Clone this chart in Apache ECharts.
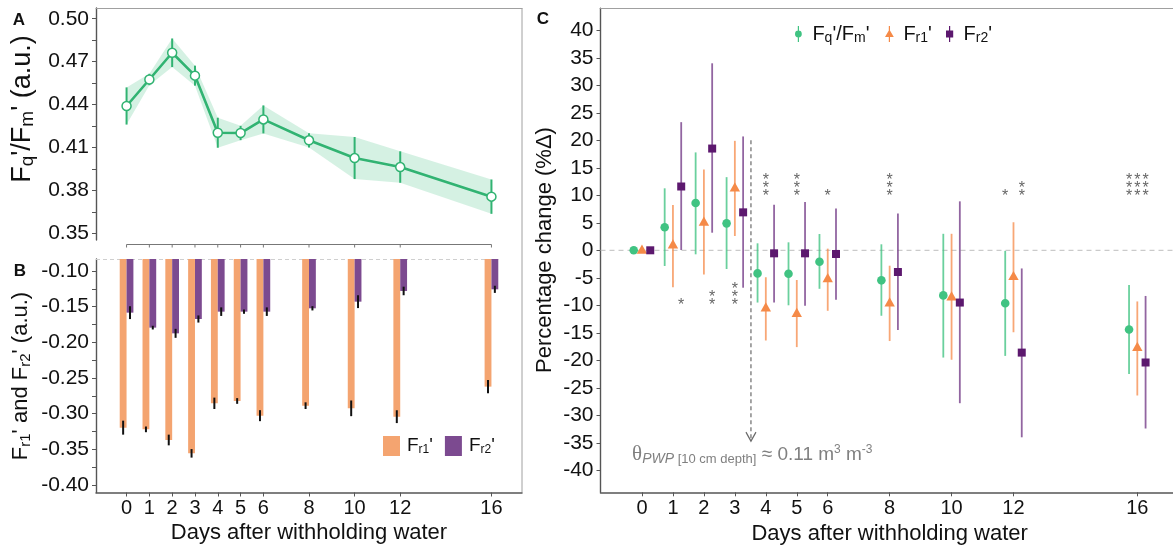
<!DOCTYPE html>
<html><head><meta charset="utf-8">
<script src="https://cdn.jsdelivr.net/npm/echarts@6/dist/echarts.min.js"></script>
<style>html,body{margin:0;padding:0;background:#fff}#c{width:1173px;height:547px}</style>
</head><body><div id="c"></div>
<script>
// ---------------- data ----------------
const days = [0, 1, 2, 3, 4, 5, 6, 8, 10, 12, 16];
// Panel A: Fq'/Fm' mean and error
const fqfm    = [0.439, 0.4575, 0.4762, 0.4602, 0.4203, 0.4201, 0.4296, 0.4150, 0.4026, 0.3963, 0.3756];
const fqfmErr = [0.013, 0.004, 0.010, 0.007, 0.0105, 0.005, 0.0098, 0.005, 0.0147, 0.011, 0.012];
// Panel B: Fr1' and Fr2' means and errors
const fr1    = [-0.3196, -0.3220, -0.3369, -0.3556, -0.2855, -0.2822, -0.3028, -0.2888, -0.2925, -0.3042, -0.2621];
const fr1Err = [0.0098, 0.004, 0.0075, 0.006, 0.008, 0.004, 0.0077, 0.0047, 0.011, 0.009, 0.0093];
const fr2    = [-0.1584, -0.1794, -0.1874, -0.1673, -0.157, -0.157, -0.157, -0.1523, -0.143, -0.128, -0.1257];
const fr2Err = [0.009, 0.0026, 0.0063, 0.005, 0.006, 0.003, 0.006, 0.003, 0.009, 0.006, 0.005];
// Panel C: percentage change (mean, low, high)
const pcFq    = [0, 4.2, 8.6, 4.9, -4.2, -4.25, -2.07, -5.46, -8.2, -9.64, -14.4];
const pcFqLo  = [0, -2.85, -0.73, -3.4, -9.5, -10.0, -7.0, -11.9, -19.5, -19.2, -22.5];
const pcFqHi  = [0, 11.27, 17.8, 13.3, 1.27, 1.45, 2.96, 1.09, 3.0, -0.1, -6.3];
const pcFr1   = [0, 0.96, 5.1, 11.3, -10.5, -11.5, -5.2, -9.6, -8.5, -4.8, -17.7];
const pcFr1Lo = [0, -6.7, -4.4, 2.6, -16.4, -17.6, -11.0, -16.5, -19.9, -14.9, -26.4];
const pcFr1Hi = [0, 8.24, 14.7, 19.9, -4.9, -5.4, 0.3, -2.8, 3.0, 5.1, -9.3];
const pcFr2   = [0, 11.6, 18.5, 6.9, -0.55, -0.55, -0.67, -3.95, -9.5, -18.6, -20.4];
const pcFr2Lo = [0, 0.05, 3.2, -6.8, -9.5, -10.1, -9.0, -14.5, -27.8, -34.0, -32.4];
const pcFr2Hi = [0, 23.3, 34.0, 20.7, 8.3, 8.8, 7.6, 6.7, 8.9, -3.3, -8.3];
// Significance marks (series: 0 = Fq'/Fm', 1 = Fr1', 2 = Fr2'; side: 1 above, -1 below)
const sigDay    = [4, 5, 6, 8, 12, 12, 16, 16, 16, 1, 2, 3];
const sigSeries = [1, 1, 1, 1, 0, 2, 0, 1, 2, 2, 2, 1];
const sigText   = ['***', '***', '*', '***', '*', '**', '***', '***', '***', '*', '**', '***'];
const sigSide   = [1, 1, 1, 1, 1, 1, 1, 1, 1, -1, -1, -1];
const sigLevelUp = 10.6, sigLevelDown = -9.3;
// PWP arrow and note (data coordinates of panel C)
const pwpDay = 3.52, pwpTop = 20, pwpBottom = -34.7;
const noteDay = -0.32, noteY = -37.2;
// Tick labels
const aYLabels = [0.35, 0.38, 0.41, 0.44, 0.47, 0.50];
const aYTicks  = [0.35, 0.365, 0.38, 0.395, 0.41, 0.425, 0.44, 0.455, 0.47, 0.485, 0.50];
const bYLabels = [-0.40, -0.35, -0.30, -0.25, -0.20, -0.15, -0.10];
const bYTicks  = [-0.40, -0.375, -0.35, -0.325, -0.30, -0.275, -0.25, -0.225, -0.20, -0.175, -0.15, -0.125, -0.10];
const cYLabels = [-40, -35, -30, -25, -20, -15, -10, -5, 0, 5, 10, 15, 20, 25, 30, 35, 40];

// ---------------- styles ----------------
const FONT = '"Liberation Sans", Arial, sans-serif';
const A_GREEN = '#31B372', A_BAND = 'rgba(64,192,128,0.22)';
const C_GREEN = '#40C382', C_ORANGE = '#F58A48', C_PURPLE = '#5C186E';
const C_GREEN_L = 'rgba(64,195,130,0.78)', C_ORANGE_L = 'rgba(245,138,72,0.75)', C_PURPLE_L = 'rgba(110,50,130,0.75)';
const B_ORANGE = '#F4A470', B_PURPLE = '#7C4A90';
const BAR_W = 0.3, DODGE = 0.267;
const X_MIN = -1.34, X_MAX = 17.34;

const chart = echarts.init(document.getElementById('c'), null, {renderer: 'canvas'});

function hiddenAxis(extra) {
  return Object.assign({type: 'value', min: X_MIN, max: X_MAX, axisLine: {show: false}, axisTick: {show: false},
    axisLabel: {show: false}, splitLine: {show: false}}, extra);
}
function borderAxis(gridIndex) {
  return {type: 'value', gridIndex, position: 'top', min: X_MIN, max: X_MAX,
    axisLine: {show: true, onZero: false, lineStyle: {color: '#a0a0a0', width: 1}}, axisTick: {show: false},
    axisLabel: {show: false}, splitLine: {show: false}};
}
function daysAxis(gridIndex) {
  return {type: 'value', gridIndex, position: 'bottom', min: X_MIN, max: X_MAX,
    axisLine: {show: true, onZero: false, lineStyle: {color: '#555', width: 1.5}},
    axisTick: {show: true, customValues: days, length: 4, lineStyle: {color: '#555', width: 1}},
    axisLabel: {show: true, customValues: days, margin: 6, fontSize: 20, color: '#111', fontFamily: FONT},
    splitLine: {show: false},
    name: 'Days after withholding water', nameLocation: 'middle', nameGap: 29,
    nameTextStyle: {fontSize: 22, color: '#111', fontFamily: FONT}};
}
function valueYAxis(gridIndex, min, max, labels, ticks, fmt) {
  return {type: 'value', gridIndex, min, max,
    axisLine: {show: true, onZero: false, lineStyle: {color: '#555', width: 1.4}},
    axisTick: {show: true, customValues: ticks, length: 4, lineStyle: {color: '#555', width: 1}},
    axisLabel: {show: true, customValues: labels, margin: 7, fontSize: 21, color: '#111', fontFamily: FONT, formatter: fmt},
    splitLine: {show: false}};
}

// ---- Panel A series ----
const bandSeries = {
  type: 'custom', xAxisIndex: 0, yAxisIndex: 0, silent: true, z: 1,
  data: days.map((d, i) => [d, fqfm[i] - fqfmErr[i], fqfm[i] + fqfmErr[i]]),
  renderItem(params, api) {
    if (params.dataIndex !== 0) return null;
    const up = days.map((d, i) => api.coord([d, fqfm[i] + fqfmErr[i]]));
    const dn = days.map((d, i) => api.coord([d, fqfm[i] - fqfmErr[i]])).reverse();
    return {type: 'polygon', shape: {points: up.concat(dn)}, style: {fill: A_BAND}};
  }
};
const aErrSeries = {
  type: 'custom', xAxisIndex: 0, yAxisIndex: 0, silent: true, z: 2,
  data: days.map((d, i) => [d, fqfm[i] - fqfmErr[i], fqfm[i] + fqfmErr[i]]),
  renderItem(params, api) {
    const lo = api.coord([api.value(0), api.value(1)]);
    const hi = api.coord([api.value(0), api.value(2)]);
    return {type: 'line', shape: {x1: lo[0], y1: lo[1], x2: hi[0], y2: hi[1]}, style: {stroke: A_GREEN, lineWidth: 2}};
  }
};
const aLineSeries = {
  type: 'line', xAxisIndex: 0, yAxisIndex: 0, z: 3, silent: true,
  data: days.map((d, i) => [d, fqfm[i]]),
  symbol: 'circle', symbolSize: 9,
  itemStyle: {color: '#fff', borderColor: A_GREEN, borderWidth: 1.5},
  lineStyle: {color: A_GREEN, width: 2.6}
};
const aBracketSeries = {
  type: 'custom', xAxisIndex: 0, yAxisIndex: 0, silent: true,
  data: days.map(d => [d, 0.36]),
  renderItem(params, api) {
    const cs = params.coordSys;
    const y0 = cs.y + cs.height + 4.5;
    const p = api.coord([api.value(0), api.value(1)]);
    const ch = [{type: 'line', shape: {x1: p[0], y1: y0, x2: p[0], y2: y0 + 3}, style: {stroke: '#777', lineWidth: 1}}];
    if (params.dataIndex === 0) {
      const a = api.coord([days[0], 0.36]), b = api.coord([days[days.length - 1], 0.36]);
      ch.push({type: 'line', shape: {x1: a[0], y1: y0, x2: b[0], y2: y0}, style: {stroke: '#777', lineWidth: 1}});
    }
    return {type: 'group', children: ch};
  }
};

// ---- Panel B series ----
function barSeries(name, color, vals, errs, offset, withTopLine) {
  return {
    type: 'custom', name, xAxisIndex: 2, yAxisIndex: 1, itemStyle: {color},
    data: days.map((d, i) => [d + offset, vals[i], errs[i]]),
    renderItem(params, api) {
      const cs = params.coordSys;
      const x = api.value(0), v = api.value(1), e = api.value(2);
      const w = api.size([BAR_W, 0])[0];
      const pEnd = api.coord([x, v]);
      const pBase = api.coord([x, 0]);
      const top = Math.max(pBase[1], cs.y);
      const lo = api.coord([x, v - e]), hi = api.coord([x, v + e]);
      const ch = [
        {type: 'rect', shape: {x: pEnd[0] - w / 2, y: top, width: w, height: pEnd[1] - top}, style: {fill: color}},
        {type: 'line', shape: {x1: lo[0], y1: lo[1], x2: hi[0], y2: hi[1]}, style: {stroke: '#111', lineWidth: 2}}
      ];
      if (withTopLine && params.dataIndex === 0) {
        const endX = api.coord([days[days.length - 1] + BAR_W, 0])[0];
        ch.unshift({type: 'line', z2: -1, shape: {x1: cs.x, y1: cs.y + 0.5, x2: endX, y2: cs.y + 0.5},
          style: {stroke: '#cfcfcf', lineWidth: 1, lineDash: [4, 3]}});
      }
      return {type: 'group', children: ch};
    }
  };
}

// ---- Panel C series ----
function symbolEl(kind, p, color) {
  if (kind === 'circle') return {type: 'circle', shape: {cx: p[0], cy: p[1], r: 4.3}, style: {fill: color}};
  if (kind === 'triangle') return {type: 'polygon', shape: {points: [[p[0], p[1] - 5.8], [p[0] + 5.2, p[1] + 3.4], [p[0] - 5.2, p[1] + 3.4]]}, style: {fill: color}};
  return {type: 'rect', shape: {x: p[0] - 4, y: p[1] - 4, width: 8, height: 8}, style: {fill: color}};
}
function pcSeries(name, color, lineColor, kind, offset, mean, lo, hi) {
  return {
    type: 'custom', name, xAxisIndex: 3, yAxisIndex: 2, itemStyle: {color}, z: 3,
    data: days.map((d, i) => [d + offset, mean[i], lo[i], hi[i]]),
    renderItem(params, api) {
      const x = api.value(0);
      const pm = api.coord([x, api.value(1)]);
      const pl = api.coord([x, api.value(2)]);
      const ph = api.coord([x, api.value(3)]);
      return {type: 'group', children: [
        {type: 'line', shape: {x1: pl[0], y1: pl[1], x2: ph[0], y2: ph[1]}, style: {stroke: lineColor, lineWidth: 1.8}},
        symbolEl(kind, pm, color)
      ]};
    }
  };
}
const offsets = [-DODGE, 0, DODGE];
const starSeries = {
  type: 'custom', xAxisIndex: 3, yAxisIndex: 2, silent: true, z: 2,
  data: sigDay.map((d, i) => [d + offsets[sigSeries[i]], sigSide[i] > 0 ? sigLevelUp : sigLevelDown]),
  renderItem(params, api) {
    const p = api.coord([api.value(0), api.value(1)]);
    const n = sigText[params.dataIndex].length;
    const ch = [];
    for (let k = 0; k < n; k++) {
      ch.push({type: 'text', x: p[0], y: p[1] - k * 8 + 4.3,
        style: {text: '*', fill: '#666', fontSize: 16, fontFamily: FONT, align: 'center', verticalAlign: 'middle'}});
    }
    return {type: 'group', children: ch};
  }
};
const pwpSeries = {
  type: 'custom', xAxisIndex: 3, yAxisIndex: 2, silent: true, z: 2,
  data: [[pwpDay, pwpTop, pwpBottom]],
  renderItem(params, api) {
    const pt = api.coord([api.value(0), api.value(1)]);
    const pb = api.coord([api.value(0), api.value(2)]);
    return {type: 'group', children: [
      {type: 'line', shape: {x1: pt[0], y1: pt[1], x2: pb[0], y2: pb[1]}, style: {stroke: '#6a6a6a', lineWidth: 1.2, lineDash: [4, 3]}},
      {type: 'polyline', shape: {points: [[pb[0] - 5, pb[1] - 9], [pb[0], pb[1]], [pb[0] + 5, pb[1] - 9]]}, style: {stroke: '#6a6a6a', lineWidth: 1.2, fill: null}}
    ]};
  }
};
const noteSeries = {
  type: 'custom', xAxisIndex: 3, yAxisIndex: 2, silent: true, z: 2,
  data: [[noteDay, noteY]],
  renderItem(params, api) {
    const p = api.coord([api.value(0), api.value(1)]);
    const g = '#808080';
    return {type: 'text', x: p[0], y: p[1], style: {
      text: '{t|θ}{i|PWP}{s| [10 cm depth]}{m| ≈ 0.11 m}{p|3}{m| m}{p|-3}',
      align: 'left', verticalAlign: 'middle',
      rich: {
        t: {fill: g, fontSize: 21, fontFamily: '"Liberation Serif", "DejaVu Serif", serif', verticalAlign: 'middle'},
        i: {fill: g, fontSize: 14, fontStyle: 'italic', fontFamily: FONT, padding: [9, 0, 0, 0], verticalAlign: 'middle'},
        s: {fill: g, fontSize: 13, fontFamily: FONT, padding: [9, 0, 0, 0], verticalAlign: 'middle'},
        m: {fill: g, fontSize: 19, fontFamily: FONT, verticalAlign: 'middle'},
        p: {fill: g, fontSize: 12, fontFamily: FONT, padding: [0, 0, 10, 0], verticalAlign: 'middle'}
      }
    }};
  }
};

const zeroLineSeries = {
  type: 'custom', xAxisIndex: 3, yAxisIndex: 2, silent: true, z: 1,
  data: [[X_MIN, 0]],
  renderItem(params, api) {
    const cs = params.coordSys;
    const p = api.coord([api.value(0), api.value(1)]);
    return {type: 'line', shape: {x1: cs.x, y1: p[1], x2: cs.x + cs.width, y2: p[1]}, style: {stroke: '#bdbdbd', lineWidth: 1, lineDash: [5, 4]}};
  }
};

// ---- legends ----
const legRich = {
  m: {fontSize: 20, color: '#111', fontFamily: FONT, verticalAlign: 'middle'},
  s: {fontSize: 14, color: '#111', fontFamily: FONT, padding: [8, 0, 0, 0], verticalAlign: 'middle'}
};
const legRichB = {
  m: {fontSize: 19, color: '#111', fontFamily: FONT, verticalAlign: 'middle'},
  s: {fontSize: 12, color: '#111', fontFamily: FONT, padding: [8, 0, 0, 0], verticalAlign: 'middle'}
};
const legendText = {
  "Fq'/Fm'": "{m|F}{s|q}{m|'/F}{s|m}{m|'}",
  "Fr1'": "{m|F}{s|r1}{m|'}",
  "Fr2'": "{m|F}{s|r2}{m|'}",
  "Fr1 bar": "{m|F}{s|r1}{m|'}",
  "Fr2 bar": "{m|F}{s|r2}{m|'}"
};
const ICON_CIRCLE = 'path://M4.4,0H5.6V16H4.4Z M1.6,8A3.4,3.4 0 1 1 8.4,8A3.4,3.4 0 1 1 1.6,8Z';
const ICON_TRI = 'path://M4.4,0H5.6V16H4.4Z M5,3.6L9.4,11L0.6,11Z';
const ICON_SQ = 'path://M4.4,0H5.6V16H4.4Z M1.4,4.4H8.6V11.6H1.4Z';
function cLegend(name, icon, left) {
  return {left, top: 24, orient: 'horizontal', selectedMode: false, padding: 0,
    itemWidth: 10, itemHeight: 16, data: [{name, icon}],
    formatter: n => legendText[n], textStyle: {rich: legRich, padding: [0, 0, 0, 4]}};
}

const option = {
  animation: false,
  textStyle: {fontFamily: FONT},
  grid: [
    {left: 96, top: 8, width: 426, height: 232, outerBoundsMode: 'none'},
    {left: 96, top: 259, width: 426, height: 233.5, outerBoundsMode: 'none'},
    {left: 600.5, top: 8.3, width: 578.3, height: 484, outerBoundsMode: 'none'}
  ],
  xAxis: [
    hiddenAxis({gridIndex: 0}),
    borderAxis(0),
    daysAxis(1),
    daysAxis(2),
    borderAxis(2)
  ],
  yAxis: [
    valueYAxis(0, 0.3453, 0.5075, aYLabels, aYTicks, v => v.toFixed(2)),
    valueYAxis(1, -0.4105, -0.0832, bYLabels, bYTicks, v => v.toFixed(2)),
    valueYAxis(2, -44, 44, cYLabels, cYLabels, v => String(Math.round(v)))
  ],
  legend: [
    {left: 383, top: 436, orient: 'horizontal', selectedMode: false, padding: 0, itemGap: 12,
      itemWidth: 17, itemHeight: 20,
      data: [{name: 'Fr1 bar', icon: 'rect'}, {name: 'Fr2 bar', icon: 'rect'}],
      formatter: n => legendText[n], textStyle: {rich: legRichB, padding: [0, 0, 0, 2]}},
    cLegend("Fq'/Fm'", ICON_CIRCLE, 795),
    cLegend("Fr1'", ICON_TRI, 885),
    cLegend("Fr2'", ICON_SQ, 946)
  ],
  graphic: [
    {type: 'text', x: 19, y: 20.5, style: {text: 'A', fontSize: 17, fontWeight: 'bold', fill: '#111', fontFamily: FONT, align: 'center', verticalAlign: 'middle'}},
    {type: 'text', x: 20, y: 271, style: {text: 'B', fontSize: 17, fontWeight: 'bold', fill: '#111', fontFamily: FONT, align: 'center', verticalAlign: 'middle'}},
    {type: 'text', x: 543, y: 19, style: {text: 'C', fontSize: 17, fontWeight: 'bold', fill: '#111', fontFamily: FONT, align: 'center', verticalAlign: 'middle'}},
    {type: 'text', x: 23, y: 109, rotation: Math.PI / 2, style: {
      text: "{m|F}{s|q}{m|'/F}{s|m}{m|' (a.u.)}", align: 'center', verticalAlign: 'middle',
      rich: {m: {fontSize: 27, fill: '#111', fontFamily: FONT, verticalAlign: 'middle'},
             s: {fontSize: 19, fill: '#111', fontFamily: FONT, padding: [10, 0, 0, 0], verticalAlign: 'middle'}}}},
    {type: 'text', x: 21, y: 376, rotation: Math.PI / 2, style: {
      text: "{m|F}{s|r1}{m|' and F}{s|r2}{m|' (a.u.)}", align: 'center', verticalAlign: 'middle',
      rich: {m: {fontSize: 22, fill: '#111', fontFamily: FONT, verticalAlign: 'middle'},
             s: {fontSize: 15, fill: '#111', fontFamily: FONT, padding: [9, 0, 0, 0], verticalAlign: 'middle'}}}},
    {type: 'text', x: 545, y: 250, rotation: Math.PI / 2, style: {
      text: 'Percentage change (%Δ)', fontSize: 22, fill: '#111', fontFamily: FONT, align: 'center', verticalAlign: 'middle'}},
    {type: 'line', shape: {x1: 522, y1: 8, x2: 522, y2: 492.5}, style: {stroke: '#a0a0a0', lineWidth: 1}}
  ],
  series: [
    bandSeries, aErrSeries, aLineSeries, aBracketSeries,
    barSeries('Fr1 bar', B_ORANGE, fr1, fr1Err, -BAR_W / 2, true),
    barSeries('Fr2 bar', B_PURPLE, fr2, fr2Err, BAR_W / 2, false),
    zeroLineSeries, pwpSeries, noteSeries, starSeries,
    pcSeries("Fq'/Fm'", C_GREEN, C_GREEN_L, 'circle', -DODGE, pcFq, pcFqLo, pcFqHi),
    pcSeries("Fr1'", C_ORANGE, C_ORANGE_L, 'triangle', 0, pcFr1, pcFr1Lo, pcFr1Hi),
    pcSeries("Fr2'", C_PURPLE, C_PURPLE_L, 'square', DODGE, pcFr2, pcFr2Lo, pcFr2Hi)
  ]
};
chart.setOption(option);
</script>
</body></html>
